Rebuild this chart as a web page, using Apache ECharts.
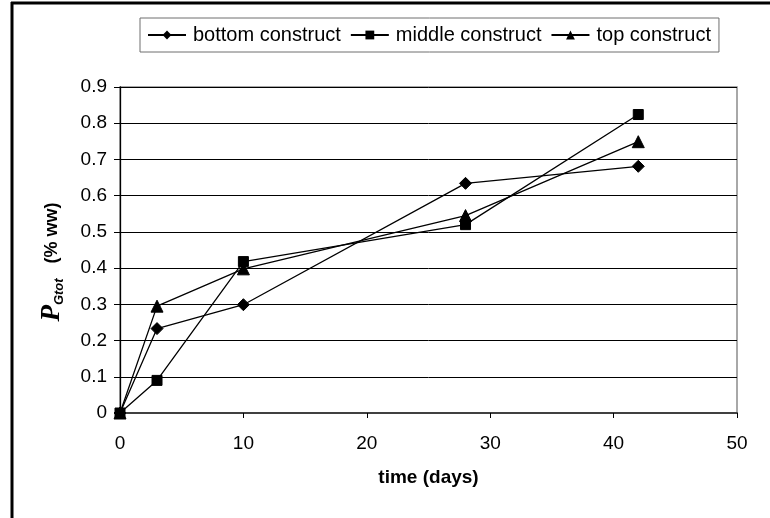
<!DOCTYPE html>
<html>
<head>
<meta charset="utf-8">
<script src="https://cdn.jsdelivr.net/npm/echarts@6/dist/echarts.min.js"></script>
<style>
  html, body { margin: 0; padding: 0; background: #fff; }
  #chart { width: 770px; height: 518px; }
</style>
</head>
<body>
<div id="chart"></div>
<script>
// Sampling times (days) and P_Gtot (% ww) for each construct position
const days = [0, 3, 10, 28, 42];
const bottomConstruct = [0, 0.233, 0.299, 0.634, 0.681];
const middleConstruct = [0, 0.090, 0.418, 0.520, 0.824];
const topConstruct = [0, 0.295, 0.398, 0.545, 0.749];
const seriesNames = ['bottom construct', 'middle construct', 'top construct'];
const xTicks = [0, 10, 20, 30, 40, 50];
const yTicks = [0, 0.1, 0.2, 0.3, 0.4, 0.5, 0.6, 0.7, 0.8, 0.9];

const pairs = (vals) => days.map((d, i) => [d, vals[i]]);

const font = 'Arial, "Liberation Sans", sans-serif';
const chart = echarts.init(document.getElementById('chart'), null, { renderer: 'canvas' });

const lineSeries = (name, vals, symbol, size) => ({
  name: name,
  type: 'line',
  data: pairs(vals),
  symbol: symbol,
  symbolSize: size,
  showAllSymbol: true,
  lineStyle: { color: '#000', width: 1.3 },
  itemStyle: { color: '#000', borderColor: '#000' },
  emphasis: { disabled: true },
  animation: false,
  z: 3
});

chart.setOption({
  animation: false,
  backgroundColor: '#fff',
  textStyle: { fontFamily: font },
  grid: {
    left: 120, right: 33, top: 87, bottom: 105,
    show: true, borderColor: '#8c8c8c', borderWidth: 1.5, backgroundColor: 'transparent'
  },
  legend: {
    data: seriesNames,
    left: 140, top: 18,
    padding: [7, 8, 7, 7],
    borderColor: '#6e6e6e', borderWidth: 1,
    itemGap: 9, itemWidth: 38, itemHeight: 11,
    textStyle: { fontFamily: font, fontSize: 20, color: '#000', padding: [0, 0, 0, 2] },
    selectedMode: false
  },
  xAxis: {
    type: 'value',
    min: xTicks[0], max: xTicks[xTicks.length - 1], interval: 10,
    name: 'time (days)',
    nameLocation: 'middle',
    nameGap: 55,
    nameTextStyle: { fontFamily: font, fontSize: 19, fontWeight: 'bold', color: '#000' },
    axisLine: { onZero: false, lineStyle: { color: '#404040', width: 2 } },
    axisTick: { show: true, length: 5, inside: false, lineStyle: { color: '#000' } },
    axisLabel: { margin: 21, fontFamily: font, fontSize: 19, color: '#000',
      formatter: (v) => String(xTicks.includes(v) ? v : '') },
    splitLine: { show: false }
  },
  yAxis: {
    type: 'value',
    min: yTicks[0], max: yTicks[yTicks.length - 1], interval: 0.1,
    axisLine: { show: true, lineStyle: { color: '#000', width: 1.3 } },
    axisTick: { show: true, length: 6, lineStyle: { color: '#000' } },
    axisLabel: { margin: 13, fontFamily: font, fontSize: 19, color: '#000',
      formatter: (v) => {
        const t = yTicks.find((y) => Math.abs(y - v) < 1e-6);
        return t === 0 ? '0' : t.toFixed(1);
      } },
    splitLine: { show: true, lineStyle: { color: '#000', width: 1 } }
  },
  graphic: [
    // outer chart frame (top and left edges)
    { type: 'line', shape: { x1: 11, y1: 3, x2: 770, y2: 3 }, style: { stroke: '#000', lineWidth: 3 }, silent: true },
    { type: 'line', shape: { x1: 12, y1: 2, x2: 12, y2: 518 }, style: { stroke: '#000', lineWidth: 3 }, silent: true },
    // rotated y-axis title: P_Gtot (% ww)
    {
      type: 'text',
      x: 52, y: 262,
      rotation: Math.PI / 2,
      silent: true,
      style: {
        text: '{p|P}{sub|Gtot}{n|   (% ww)}',
        align: 'center',
        verticalAlign: 'middle',
        rich: {
          p: { fontFamily: '"Liberation Serif", "Times New Roman", serif', fontStyle: 'italic', fontWeight: 'bold', fontSize: 27, lineHeight: 28, verticalAlign: 'bottom', fill: '#000' },
          sub: { fontFamily: font, fontStyle: 'italic', fontWeight: 'bold', fontSize: 13, lineHeight: 28, verticalAlign: 'bottom', fill: '#000' },
          n: { fontFamily: font, fontWeight: 'bold', fontSize: 18, lineHeight: 28, verticalAlign: 'middle', fill: '#000' }
        }
      }
    }
  ],
  series: [
    lineSeries(seriesNames[0], bottomConstruct, 'diamond', 12),
    lineSeries(seriesNames[1], middleConstruct, 'rect', 10),
    lineSeries(seriesNames[2], topConstruct, 'triangle', 12)
  ]
});
</script>
</body>
</html>
